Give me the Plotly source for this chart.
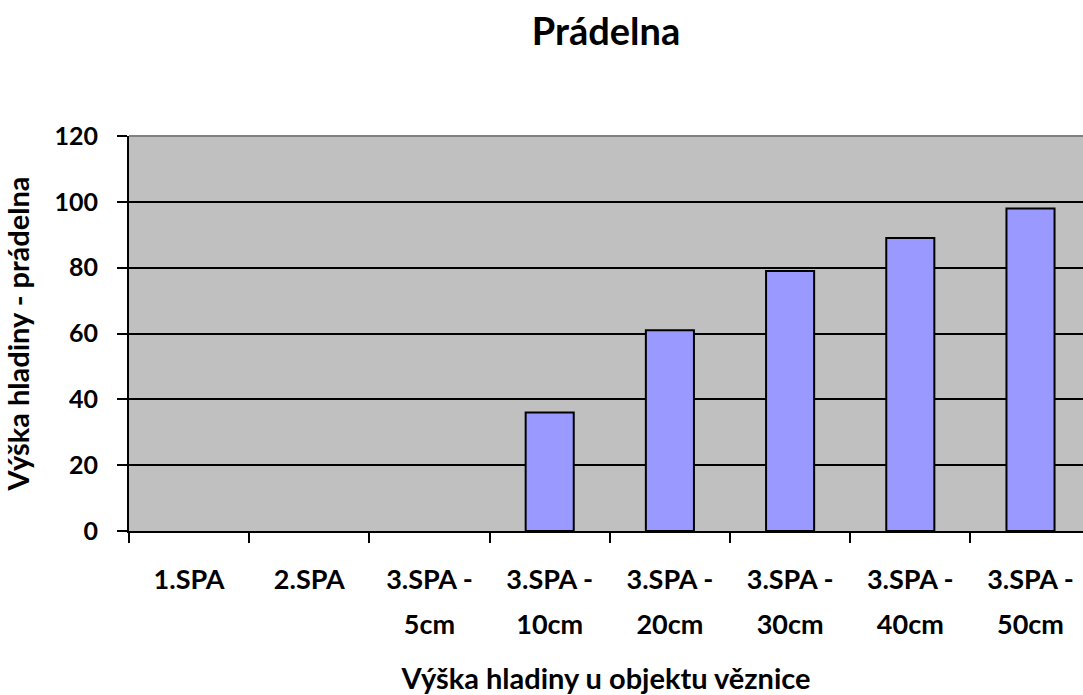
import plotly.graph_objects as go

cat_line1 = ["1.SPA", "2.SPA", "3.SPA -", "3.SPA -", "3.SPA -", "3.SPA -", "3.SPA -", "3.SPA -"]
cat_line2 = ["", "", "5cm", "10cm", "20cm", "30cm", "40cm", "50cm"]
values = [None, None, None, 36, 61, 79, 89, 98]
y_ticks = [0, 20, 40, 60, 80, 100, 120]

FONT = "Lato"
W, H = 1083, 695
L, R, T, B = 129, 0, 136, 164
cat_px = 120.2
x_end = -0.5 + (W - L - R) / cat_px
idx = list(range(len(cat_line1)))

fig = go.Figure()
fig.add_trace(go.Bar(
    x=idx, y=values, width=0.4,
    marker=dict(color="#9999FF", line=dict(color="black", width=2)),
))
# invisible trace so the second-line label axis is drawn
fig.add_trace(go.Scatter(x=idx, y=[None] * len(idx), xaxis="x2", mode="markers",
                         hoverinfo="skip", showlegend=False))

fig.update_layout(
    width=W, height=H,
    margin=dict(l=L, r=R, t=T, b=B),
    paper_bgcolor="white", plot_bgcolor="#C0C0C0",
    showlegend=False,
    font=dict(family=FONT, color="black"),
    title=dict(text="<b>Prádelna</b>", x=0.5, xref="paper", xanchor="center",
               y=1 - 32 / H, yanchor="middle", font=dict(size=38, family=FONT)),
    xaxis=dict(
        range=[-0.5, x_end],
        tickmode="array", tickvals=idx,
        ticktext=[f"<b>{c}</b>" for c in cat_line1],
        tickfont=dict(size=27, family=FONT),
        ticks="", ticklabelstandoff=24,
        minor=dict(tickvals=[i - 0.5 for i in range(len(idx) + 1)],
                   ticks="outside", ticklen=10, tickwidth=2, tickcolor="black"),
        showline=True, linecolor="black", linewidth=2,
        showgrid=False, zeroline=False,
        title=dict(text="<b>Výška hladiny u objektu věznice</b>",
                   font=dict(size=29, family=FONT), standoff=75),
    ),
    xaxis2=dict(
        overlaying="x", anchor="y", side="bottom", matches="x",
        tickmode="array", tickvals=idx,
        ticktext=[f"<b>{c}</b>" if c else "" for c in cat_line2],
        tickfont=dict(size=27, family=FONT),
        ticks="", ticklabelstandoff=75,
        showline=False, showgrid=False, zeroline=False,
    ),
    yaxis=dict(
        range=[0, 120], tickmode="array", tickvals=y_ticks,
        ticktext=[f"<b>{v}</b>" for v in y_ticks],
        tickfont=dict(size=25, family=FONT),
        ticks="outside", ticklen=10, tickwidth=2, tickcolor="black",
        ticklabelstandoff=14,
        showline=True, linecolor="black", linewidth=2,
        showgrid=True, gridcolor="black", gridwidth=2, zeroline=False,
        title=dict(text="<b>Výška hladiny - prádelna</b>",
                   font=dict(size=29, family=FONT), standoff=18),
    ),
)
fig.add_shape(type="line", xref="paper", yref="paper", x0=0, x1=1, y0=1, y1=1,
              line=dict(color="#808080", width=2))

fig.write_html("out.html", config={"displayModeBar": False},
               post_script="document.body.style.margin='0';")
